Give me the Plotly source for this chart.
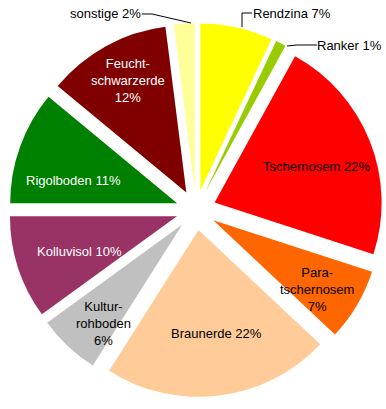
import plotly.graph_objects as go

# ---- data ----
labels = ["Rendzina", "Ranker", "Tschernosem", "Para-tschernosem", "Braunerde",
          "Kultur-rohboden", "Kolluvisol", "Rigolboden", "Feucht-schwarzerde", "sonstige"]
values = [7, 1, 22, 7, 22, 6, 10, 11, 12, 2]
label_text = ["Rendzina 7%", "Ranker 1%", "Tschernosem 22%", "Para-<br>tschernosem<br>7%",
              "Braunerde 22%", "Kultur-<br>rohboden<br>6%", "Kolluvisol 10%",
              "Rigolboden 11%", "Feucht-<br>schwarzerde<br>12%", "sonstige 2%"]

# ---- styles ----
colors = ["#FFFF00", "#99CC00", "#FF0000", "#FF6600", "#FFCC99",
          "#C0C0C0", "#993366", "#008000", "#800000", "#FFFF99"]
text_colors = ["black", "black", "black", "black", "black",
               "black", "white", "white", "white", "black"]
# pixel positions of label centres (layout)
label_pos = [(292, 14), (349, 45), (316, 166), (317, 289), (216, 333),
             (103, 323), (79, 251), (73, 180), (128, 81), (105, 14)]
leaders = {
    0: [(242, 27), (242, 13), (252, 13)],
    1: [(287, 46), (297, 45), (317, 45)],
    9: [(142, 14), (152, 14), (191, 23)],
}

W, H = 386, 409
L, R, T, B = 9, 3, 23, 12
PW, PH = W - L - R, H - T - B


def px(x, y):
    return (x - L) / PW, (H - B - y) / PH


fig = go.Figure(go.Pie(
    labels=labels, values=values, sort=False, direction="clockwise",
    rotation=0, pull=0.12, textinfo="none", hoverinfo="label+percent",
    marker=dict(colors=colors, line=dict(width=0)),
    showlegend=False,
))

annotations = []
for i, t in enumerate(label_text):
    x, y = px(*label_pos[i])
    annotations.append(dict(x=x, y=y, xref="paper", yref="paper", text=t,
                            showarrow=False, xanchor="center", yanchor="middle",
                            font=dict(family="Liberation Sans, Arial", size=13,
                                      color=text_colors[i])))

shapes = []
for i, pts in leaders.items():
    path = ""
    for j, p in enumerate(pts):
        x, y = px(*p)
        path += ("M" if j == 0 else " L") + f" {x:.4f} {y:.4f}"
    shapes.append(dict(type="path", xref="paper", yref="paper", path=path,
                       line=dict(color="black", width=1)))

fig.update_layout(
    width=W, height=H, margin=dict(l=L, r=R, t=T, b=B),
    paper_bgcolor="white", plot_bgcolor="white",
    annotations=annotations, shapes=shapes,
    font=dict(family="Liberation Sans, Arial", size=13),
)
fig.write_html("out.html", config={"displayModeBar": False},
               post_script="document.body.style.margin='0px';")
